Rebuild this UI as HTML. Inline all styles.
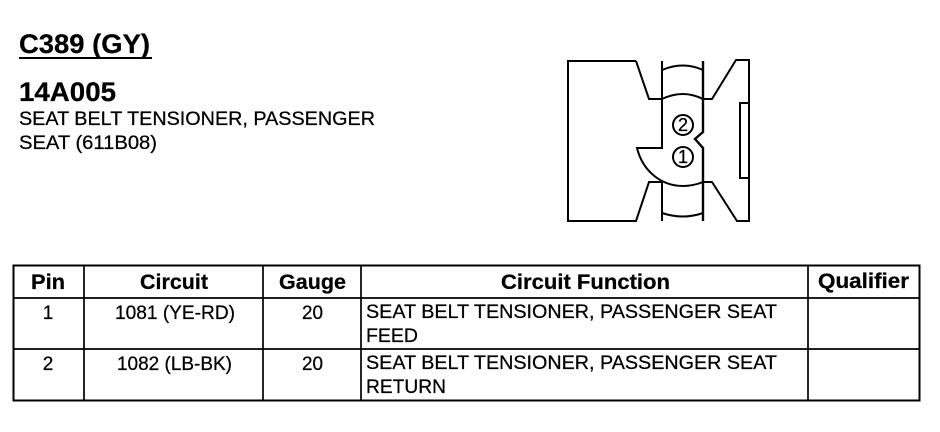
<!DOCTYPE html>
<html><head><meta charset="utf-8"><style>
html,body{margin:0;padding:0;background:#fff;width:940px;height:432px;overflow:hidden}
svg{display:block}
text{font-family:"Liberation Sans",sans-serif;fill:#000;stroke:#000;stroke-width:.25px}
.b{font-weight:bold}
.h{font-weight:bold;font-size:21px}
.t{font-size:19px}
</style></head><body>
<svg width="940" height="432" viewBox="0 0 940 432" xmlns="http://www.w3.org/2000/svg">
<text x="19" y="53" class="b" font-size="27" textLength="131" lengthAdjust="spacingAndGlyphs">C389 (GY)</text>
<rect x="19" y="57" width="133" height="2" fill="#000"/>
<text x="19" y="101" class="b" font-size="27" textLength="97" lengthAdjust="spacingAndGlyphs">14A005</text>
<text x="19" y="125" class="t" textLength="356" lengthAdjust="spacingAndGlyphs">SEAT BELT TENSIONER, PASSENGER</text>
<text x="19" y="149" class="t" textLength="138" lengthAdjust="spacingAndGlyphs">SEAT (611B08)</text>

<g fill="none" stroke="#000" stroke-width="2">
<path d="M636 61H568V221H636L649 182H662"/>
<path d="M636 61L649 99H662Q683 89 703 99H712L736 60H749V221H737L712 182H703"/>
<path d="M662 61V148H637C643 172 662 186 683 186C692 186 698 184 703 182"/>
<path d="M703 61V132L695 139L703 148V221" stroke-width="2.4"/>
<path d="M662 182V221"/>
<path d="M662 70Q683 61 703 70"/>
<path d="M662 213Q683 220 703 213"/>
<path d="M749 103H740V178H749"/>
<circle cx="683" cy="125" r="10"/>
<circle cx="683" cy="157" r="10"/>
</g>
<text x="683" y="131" font-size="18" text-anchor="middle">2</text>
<text x="683" y="163" font-size="18" text-anchor="middle">1</text>

<g fill="none" stroke="#000">
<rect x="13.5" y="265.5" width="906" height="135" stroke-width="2"/>
<path d="M13 298H920M13 349H920" stroke-width="1.7"/>
<path d="M84 265V400M263 265V400M361 265V400M808 265V400" stroke-width="1.7"/>
</g>

<text x="31" y="289" class="h" textLength="34" lengthAdjust="spacingAndGlyphs">Pin</text>
<text x="140" y="289" class="h" textLength="68" lengthAdjust="spacingAndGlyphs">Circuit</text>
<text x="279" y="289" class="h" textLength="67" lengthAdjust="spacingAndGlyphs">Gauge</text>
<text x="501" y="289" class="h" textLength="169" lengthAdjust="spacingAndGlyphs">Circuit Function</text>
<text x="818" y="288" class="h" textLength="91" lengthAdjust="spacingAndGlyphs">Qualifier</text>

<text x="48" y="319" class="t" text-anchor="middle">1</text>
<text x="115" y="319" class="t" textLength="120" lengthAdjust="spacingAndGlyphs">1081 (YE-RD)</text>
<text x="302" y="319" class="t" textLength="21" lengthAdjust="spacingAndGlyphs">20</text>
<text x="366" y="318" class="t" textLength="411" lengthAdjust="spacingAndGlyphs">SEAT BELT TENSIONER, PASSENGER SEAT</text>
<text x="366" y="342" class="t" textLength="52" lengthAdjust="spacingAndGlyphs">FEED</text>

<text x="48" y="370" class="t" text-anchor="middle">2</text>
<text x="117" y="370" class="t" textLength="115" lengthAdjust="spacingAndGlyphs">1082 (LB-BK)</text>
<text x="302" y="370" class="t" textLength="21" lengthAdjust="spacingAndGlyphs">20</text>
<text x="366" y="369" class="t" textLength="411" lengthAdjust="spacingAndGlyphs">SEAT BELT TENSIONER, PASSENGER SEAT</text>
<text x="366" y="393" class="t" textLength="80" lengthAdjust="spacingAndGlyphs">RETURN</text>
</svg>
</body></html>
